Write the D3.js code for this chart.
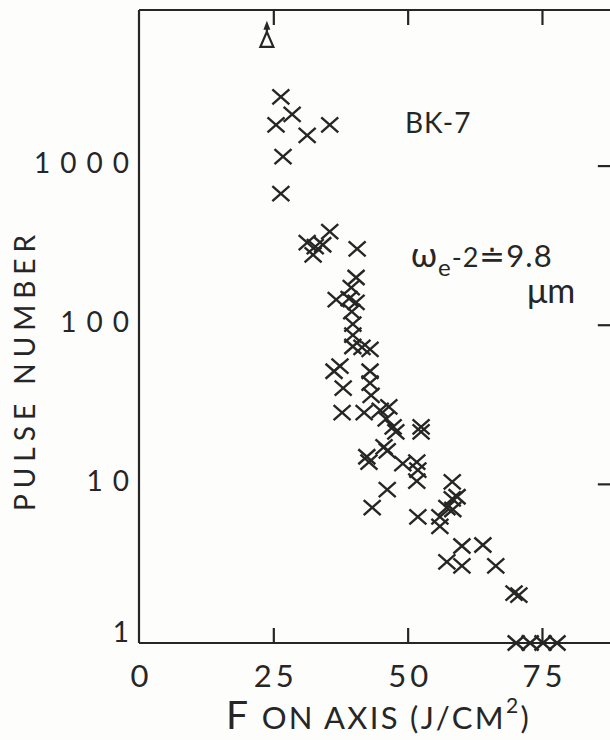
<!DOCTYPE html>
<html><head><meta charset="utf-8">
<script src="https://cdn.jsdelivr.net/npm/d3@7"></script>
<style>body{margin:0;background:#fdfdfc} svg{display:block}</style>
</head><body>
<script>
// ---- data ----
const xTickValues = [0, 25, 50, 75];
const xTickLabels = ["0", "25", "50", "75"];
const yTickValues = [1, 10, 100, 1000];
const yTickLabels = ["1", "10", "100", "1000"];

const fluence = [26.4, 28.5, 25.5, 31.3, 35.5, 26.8, 26.4, 35.5, 31.3, 32.8, 34.2, 32.4,
  40.6, 40.4, 39.5, 36.7, 39.1, 40.4, 39.6, 39.8, 39.8, 39.8, 41.5, 43.0, 37.4, 36.3, 43.0,
  38.0, 43.0, 43.2, 37.8, 41.9, 44.9, 46.5, 46.0, 47.3, 47.8, 52.5, 52.5, 45.6, 46.2, 42.4,
  42.8, 49.1, 51.7, 51.9, 51.7, 58.3, 46.2, 58.3, 59.2, 58.4, 57.3, 43.4, 51.9, 56.0, 56.0,
  60.1, 64.0, 57.3, 60.1, 66.4, 69.8, 70.7, 70.2, 72.8, 75.2, 77.8];
const pulses = [2700, 2100, 1800, 1550, 1800, 1140, 667, 385, 328, 310, 318, 275,
  300, 198, 171, 144, 146, 138, 121, 101, 86, 73, 72, 70, 55, 51, 51,
  40, 43, 36, 28, 28, 29, 30.5, 25.6, 22.8, 21.2, 22.8, 21.2, 17.1, 16.1, 14.8,
  13.7, 13.4, 13.7, 12.2, 10.4, 10.3, 9.2, 8.05, 8.3, 6.9, 7.1, 7.1, 6.2, 6.2, 5.4,
  4.07, 4.13, 3.23, 3.05, 3.05, 2.06, 2.0, 1, 1, 1, 1];
// lower-bound point (triangle with arrow: more than this many pulses)
const boundFluence = [23.8];
const boundPulses = [6170];

// ---- layout ----
const W = 610, H = 740;
const ink = "#262626";
const font = "Lato, 'DejaVu Sans', sans-serif";
const svg = d3.select("body").append("svg").attr("width", W).attr("height", H)
  .style("background", "#fdfdfc");

const x = d3.scaleLinear().domain([0, 88]).range([139, 139 + 88 * 5.373]);
const y = d3.scaleLog().domain([1, 9500]).range([643, 10]);
const [x0, x1] = x.range();
const [y0, y1] = y.range();

// frame
const frame = svg.append("g").attr("stroke", ink).attr("stroke-width", 2.2).attr("fill", "none");
frame.append("line").attr("x1", x0).attr("x2", x0).attr("y1", y1).attr("y2", y0);
frame.append("line").attr("x1", x0).attr("x2", x1).attr("y1", y0).attr("y2", y0);
frame.append("line").attr("x1", x0).attr("x2", x1).attr("y1", y1).attr("y2", y1);

function styleTicks(g) {
  g.select(".domain").remove();
  g.selectAll(".tick line").attr("stroke", ink).attr("stroke-width", 2.2);
}
// inward ticks
svg.append("g").attr("transform", `translate(0,${y0})`)
  .call(d3.axisBottom(x).tickValues(xTickValues.slice(1)).tickSize(-15).tickFormat(""))
  .call(styleTicks);
svg.append("g").attr("transform", `translate(0,${y1})`)
  .call(d3.axisTop(x).tickValues(xTickValues.slice(1)).tickSize(-15).tickFormat(""))
  .call(styleTicks);
svg.append("g").attr("transform", `translate(${x1},0)`)
  .call(d3.axisRight(y).tickValues(yTickValues.slice(1)).tickSize(-14).tickFormat(""))
  .call(styleTicks);

// x tick labels
const xl = svg.append("g").attr("transform", `translate(0,${y0})`)
  .call(d3.axisBottom(x).tickValues(xTickValues).tickSize(0).tickPadding(22)
    .tickFormat((d, i) => xTickLabels[i]));
xl.select(".domain").remove();
xl.selectAll("text").attr("fill", ink).style("font-family", font).style("font-size", "31px")
  .style("letter-spacing", "4px").attr("dx", 2);

// y tick labels
const yl = svg.append("g").attr("transform", `translate(${x0},0)`)
  .call(d3.axisLeft(y).tickValues(yTickValues).tickSize(0).tickPadding(0)
    .tickFormat((d, i) => yTickLabels[i]));
yl.select(".domain").remove();
yl.selectAll("text").attr("fill", ink).style("font-family", font).style("font-size", "28px")
  .style("letter-spacing", "10px").attr("dy", (d) => d === 1 ? "-0.05em" : "0.25em");

// axis titles
svg.append("text").attr("transform", "translate(35,370) rotate(-90)")
  .attr("text-anchor", "middle").attr("fill", ink)
  .style("font-family", font).style("font-size", "28px").style("letter-spacing", "6px")
  .text("PULSE NUMBER");

const xt = svg.append("text").attr("x", 226).attr("y", 729).attr("fill", ink)
  .style("font-family", font).style("letter-spacing", "2.3px");
xt.append("tspan").style("font-size", "39px").text("F ");
xt.append("tspan").style("font-size", "31px").text("ON AXIS (J/CM");
xt.append("tspan").style("font-size", "21px").attr("dy", -16).text("2");
xt.append("tspan").style("font-size", "31px").attr("dy", 16).text(")");

// annotations
svg.append("text").attr("x", 405).attr("y", 133).attr("fill", ink)
  .style("font-family", font).style("font-size", "28px").style("letter-spacing", "1px")
  .text("BK-7");
const wt = svg.append("text").attr("x", 411).attr("y", 267).attr("fill", ink)
  .style("font-family", font).style("font-size", "31px").style("letter-spacing", "1px");
wt.append("tspan").style("font-size", "34px").text("ω");
wt.append("tspan").style("font-size", "24px").attr("dy", 9).text("e");
wt.append("tspan").style("font-size", "27px").attr("dy", -9).text("-2");
wt.append("tspan").text("≐9.8");
svg.append("text").attr("x", 527).attr("y", 303).attr("fill", ink)
  .style("font-family", font).style("font-size", "34px").text("μm");

// data crosses
const pts = fluence.map((f, i) => ({ f, n: pulses[i] }));
svg.append("g").selectAll("path").data(pts).join("path")
  .attr("transform", (d) => `translate(${x(d.f)},${y(d.n)})`)
  .attr("d", "M-8.5,-7.5L8.5,7.5M-8.5,7.5L8.5,-7.5")
  .attr("stroke", ink).attr("stroke-width", 2.4).attr("fill", "none");

// lower-bound marker
const bpts = boundFluence.map((f, i) => ({ f, n: boundPulses[i] }));
const bg = svg.append("g").selectAll("g").data(bpts).join("g")
  .attr("transform", (d) => `translate(${x(d.f)},${y(d.n)})`);
bg.append("path").attr("d", "M0,-8L6.5,7L-6.5,7Z").attr("fill", "none")
  .attr("stroke", ink).attr("stroke-width", 2.2);
bg.append("path").attr("d", "M0,-8L0,-11").attr("stroke", ink).attr("stroke-width", 2.2);
bg.append("path").attr("d", "M-3.5,-10L0,-19L3.5,-10Z").attr("fill", ink);
</script>
</body></html>
